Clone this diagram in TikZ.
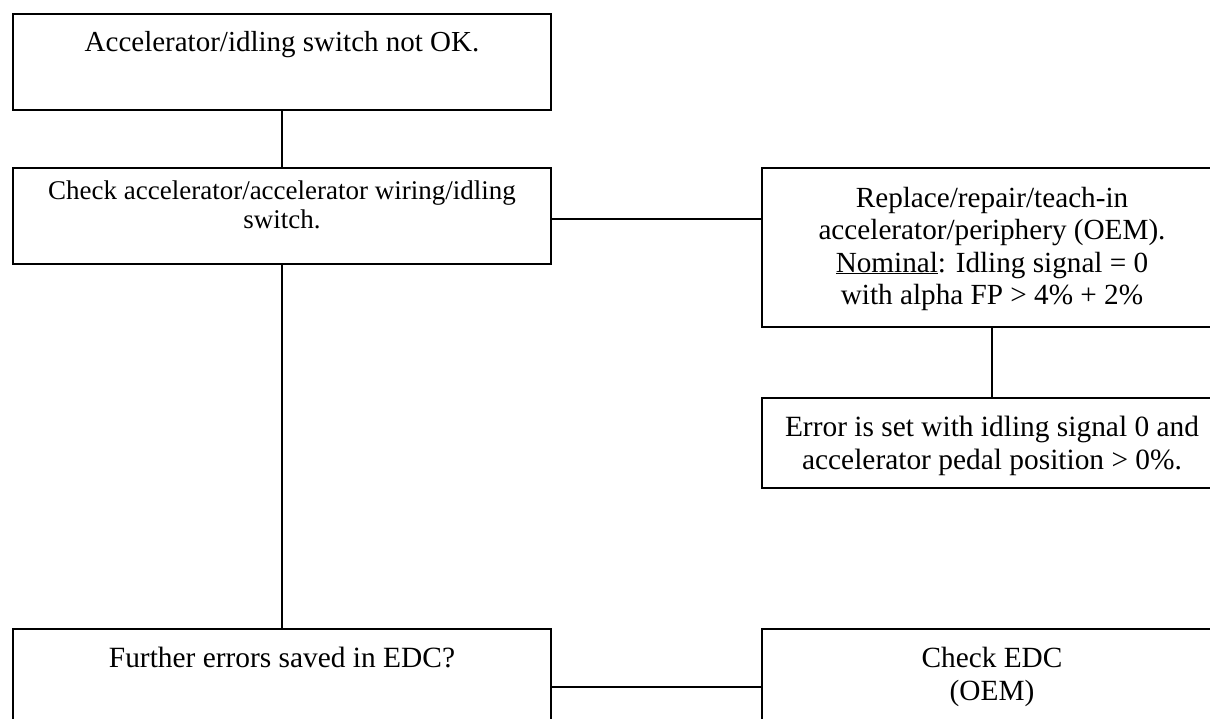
\documentclass[tikz,border=0pt]{standalone}
\usepackage{fontspec}
\setmainfont{Liberation Serif}
\newcommand{\bx}[6]{\parbox[c][#2][t]{#1}{\centering\fontsize{#4}{#5}\selectfont\rule{0pt}{#3}#6\par}}
\tikzset{
  box/.style={draw, line width=1.6pt, anchor=north west, inner sep=0pt, outer sep=0pt},
  conn/.style={line width=1.3pt}
}
\begin{document}
\begin{tikzpicture}[x=1pt,y=-1pt]
\useasboundingbox (0,0) rectangle (1210,718);
\node[box] (a) at (13,14) {\bx{538pt}{96pt}{37pt}{29}{33}{Accelerator/idling switch not OK.}};
\node[box] (b) at (13,168) {\bx{538pt}{96pt}{31pt}{27}{29}{Check accelerator/accelerator wiring/idling\\ switch.}};
\node[box] (c) at (762,168) {\bx{460pt}{159pt}{39pt}{29.2}{32.5}{Replace/repair/teach-in\\ accelerator/periphery (OEM).\\ \underline{Nominal}: Idling signal = 0\\ with alpha FP > 4\% + 2\%}};
\node[box] (d) at (762,398) {\bx{460pt}{90pt}{38pt}{29.4}{33}{Error is set with idling signal 0 and\\ accelerator pedal position > 0\%.}};
\node[box] (e) at (13,629) {\bx{538pt}{96pt}{38pt}{29.4}{33}{Further errors saved in EDC?}};
\node[box] (f) at (762,629) {\bx{460pt}{96pt}{38pt}{29.3}{33}{Check EDC\\ (OEM)}};
\draw[conn] (a.south -| 282,0) -- (b.north -| 282,0);
\draw[conn] (b.south -| 282,0) -- (e.north -| 282,0);
\draw[conn] (b.east |- 0,219) -- (c.west |- 0,219);
\draw[conn] (c.south -| 992,0) -- (d.north -| 992,0);
\draw[conn] (e.east |- 0,687) -- (f.west |- 0,687);
\end{tikzpicture}
\end{document}
